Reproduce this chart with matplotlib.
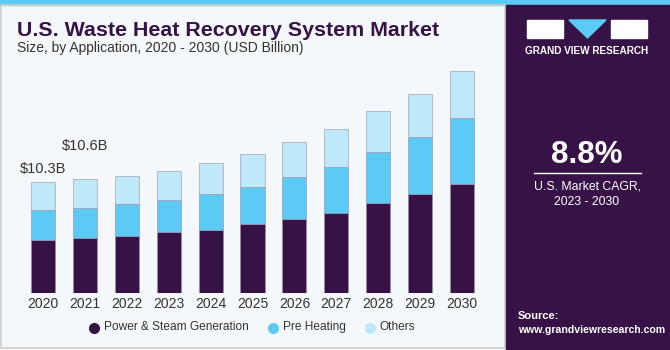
import matplotlib.pyplot as plt
import numpy as np
from matplotlib.patches import Rectangle, Polygon

plt.rcParams['font.family'] = ['Liberation Sans', 'DejaVu Sans']

years = ['2020', '2021', '2022', '2023', '2024', '2025', '2026', '2027', '2028', '2029', '2030']
power_steam = [4.95, 5.16, 5.34, 5.66, 5.87, 6.40, 6.89, 7.48, 8.35, 9.21, 10.14]
pre_heating = [2.78, 2.78, 2.97, 3.00, 3.34, 3.49, 3.92, 4.24, 4.79, 5.32, 6.15]
others = [2.57, 2.66, 2.54, 2.72, 2.85, 3.03, 3.25, 3.53, 3.78, 3.96, 4.33]
series_names = ['Power & Steam Generation', 'Pre Heating', 'Others']
colors = ['#371247', '#5bcbf5', '#bde9f9']
callouts = {0: '$10.3B', 1: '$10.6B'}

W, H = 670, 350
fig = plt.figure(figsize=(W / 100, H / 100), dpi=100)
fig.patch.set_facecolor('#f4f8fb')


def fx(px):
	return px / W


def fy(py):
	return 1 - py / H


# top stripe and frame
fig.patches.append(Rectangle((0, fy(5)), 1, 5 / H, transform=fig.transFigure, color='#5bcbf5', zorder=0))
fig.patches.append(Rectangle((fx(1), fy(348)), fx(504), 343 / H, transform=fig.transFigure,
	fill=False, edgecolor='#cfcfcf', lw=1.2, zorder=0))

# right panel
fig.patches.append(Rectangle((fx(506), 0), 1 - fx(506), fy(5), transform=fig.transFigure, color='#371247', zorder=0))
grad = np.linspace(0, 1, 100).reshape(-1, 1)
gax = fig.add_axes([fx(506), 0, 1 - fx(506), 80 / H])
gax.imshow(grad, aspect='auto', cmap=plt.matplotlib.colors.LinearSegmentedColormap.from_list(
	'g', ['#371247', '#3d3d72', '#4a88b8']), origin='upper', extent=[0, 1, 0, 1])
gax.axis('off')

# logo
fig.patches.append(Rectangle((fx(527), fy(38)), 36 / W, 18 / H, transform=fig.transFigure, color='white'))
fig.patches.append(Polygon([(fx(569), fy(20)), (fx(606), fy(20)), (fx(587.5), fy(38))],
	closed=True, transform=fig.transFigure, color='#5bcbf5'))
fig.patches.append(Rectangle((fx(611), fy(38)), 36 / W, 18 / H, transform=fig.transFigure, color='white'))
fig.text(fx(587), fy(51), 'GRAND VIEW RESEARCH', color='white', fontsize=7.2, fontweight='bold',
	ha='center', va='center')

fig.text(fx(587), fy(155), '8.8%', color='white', fontsize=22.5, fontweight='bold', ha='center', va='center')
fig.add_artist(plt.Line2D([fx(534), fx(641)], [fy(173), fy(173)], color='white', lw=1, transform=fig.transFigure))
fig.text(fx(587), fy(186), 'U.S. Market CAGR,', color='white', fontsize=8.8, ha='center', va='center')
fig.text(fx(587), fy(202), '2023 - 2030', color='white', fontsize=8.8, ha='center', va='center')
fig.text(fx(518), fy(316), 'Source:', color='white', fontsize=8, fontweight='bold', ha='left', va='center')
fig.text(fx(518), fy(330), 'www.grandviewresearch.com', color='white', fontsize=7.6, fontweight='bold',
	ha='left', va='center')

# titles
fig.text(fx(17), fy(30), 'U.S. Waste Heat Recovery System Market', color='#371247', fontsize=15.4,
	fontweight='bold', ha='left', va='center')
fig.text(fx(17), fy(48), 'Size, by Application, 2020 - 2030 (USD Billion)', color='#333333', fontsize=10,
	ha='left', va='center')

# bars
L, R = 22, 484
base, top = 293.3, 60
ax = fig.add_axes([fx(L), fy(base), (R - L) / W, (base - top) / H])
ax.set_facecolor('none')
x = np.arange(len(years))
bottom = np.zeros(len(years))
for vals, c in zip([power_steam, pre_heating, others], colors):
	ax.bar(x, vals, width=0.575, bottom=bottom, color=c, edgecolor='#9a8aa6', linewidth=0.4)
	bottom += np.array(vals)
totals = bottom
for i, txt in callouts.items():
	ax.text(x[i] - 0.55, totals[i] + 1.2 + 1.9 * i, txt, fontsize=10.5, color='#333333', ha='left', va='center')

ax.set_xlim((L - 43) / 41.9, (R - 43) / 41.9)
ax.set_ylim(0, (base - top) / 10.78)
ax.set_xticks(x)
ax.set_xticklabels(years, fontsize=10, color='#333333')
ax.tick_params(axis='x', length=0, pad=3)
ax.set_yticks([])
for s in ax.spines.values():
	s.set_visible(False)

# legend
leg_x = [94, 273, 370]
for lx, name, c in zip(leg_x, series_names, colors):
	fig.add_artist(plt.Line2D([fx(lx)], [fy(328)], marker='o', markersize=7, color=c, transform=fig.transFigure))
	fig.text(fx(lx + 10), fy(327), name, fontsize=8.6, color='#333333', ha='left', va='center')

fig.savefig('out.png', dpi=100, facecolor=fig.get_facecolor())
